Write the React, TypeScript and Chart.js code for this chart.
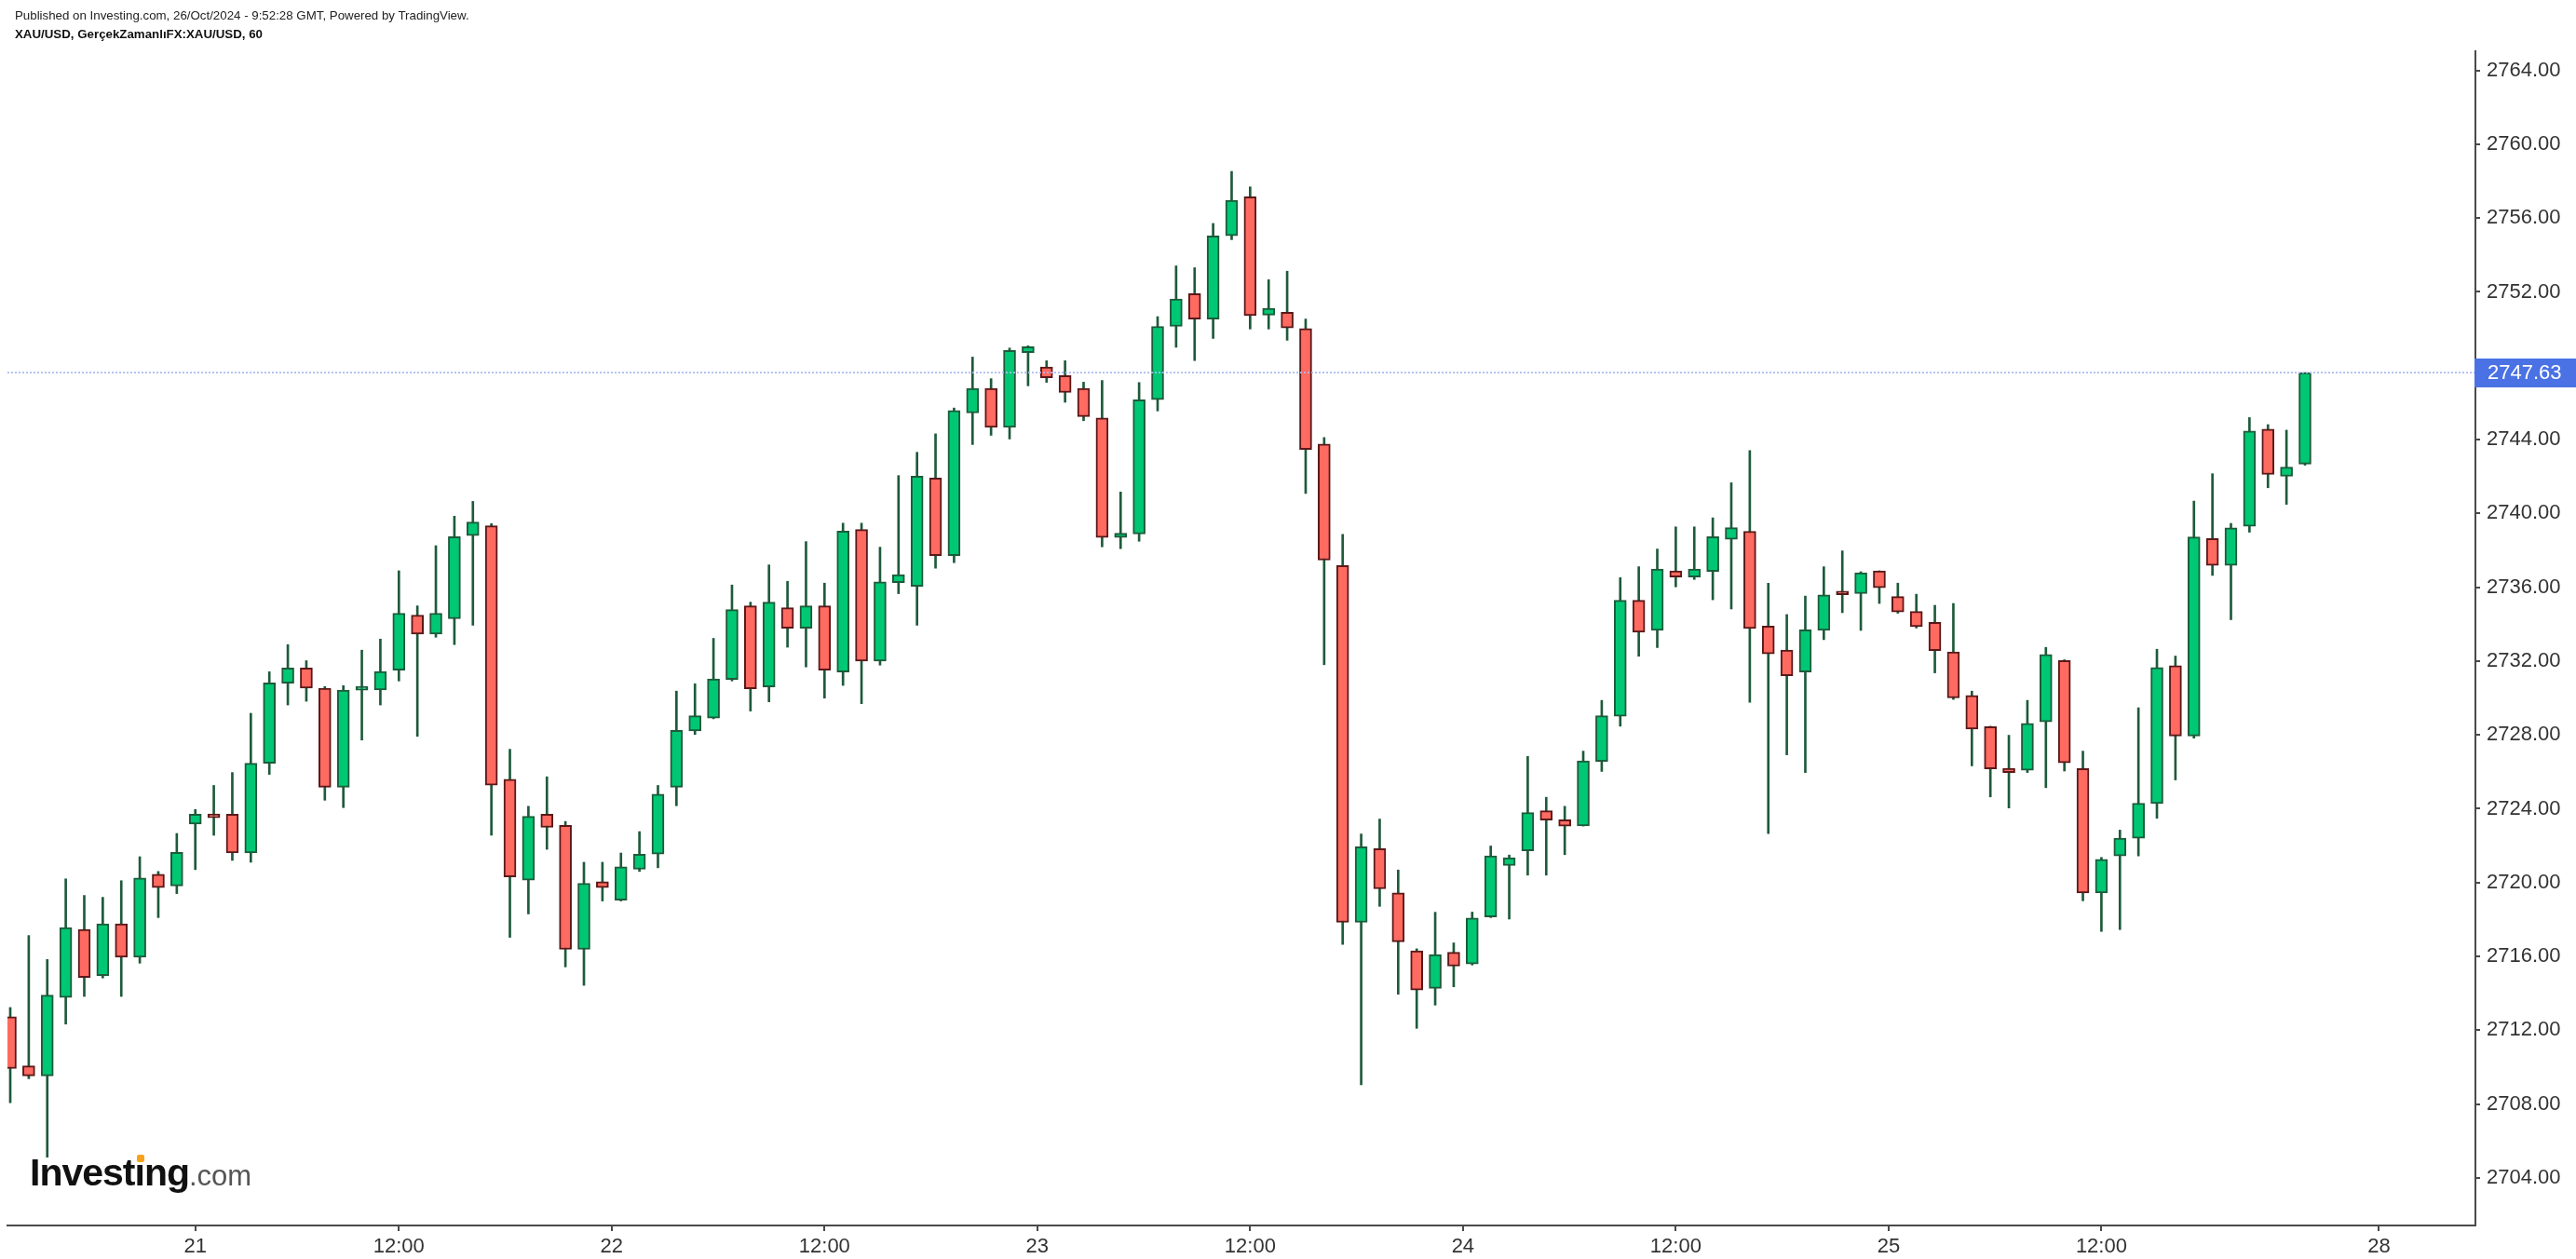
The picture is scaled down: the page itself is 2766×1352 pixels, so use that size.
import React, { useEffect, useRef } from "react";
import { Chart, registerables } from "chart.js";

Chart.register(...registerables);

// ---- data (XAU/USD, 1h candles) ----
const opens = [
  2712.73, 2710.07, 2709.52, 2713.77, 2717.46, 2714.96, 2717.76, 2715.96, 2720.45, 2719.82,
  2723.17, 2723.56, 2723.70, 2721.60, 2726.46, 2730.80, 2731.63, 2730.53, 2725.16, 2730.42,
  2730.43, 2731.50, 2734.49, 2733.46, 2734.29, 2738.80, 2739.33, 2725.59, 2720.13, 2723.70,
  2723.10, 2716.38, 2720.05, 2719.05, 2720.72, 2721.54, 2725.16, 2728.21, 2728.91, 2731.00,
  2734.99, 2730.60, 2734.89, 2733.78, 2734.99, 2731.40, 2739.13, 2732.00, 2736.25, 2736.05,
  2741.92, 2737.71, 2745.44, 2746.77, 2744.66, 2748.71, 2747.93, 2747.46, 2746.77, 2745.17,
  2738.70, 2738.89, 2746.16, 2750.13, 2751.91, 2750.53, 2755.04, 2757.15, 2750.74, 2750.90,
  2750.02, 2743.76, 2737.18, 2717.84, 2721.84, 2719.44, 2716.30, 2714.27, 2716.22, 2715.59,
  2718.14, 2720.92, 2721.72, 2723.89, 2723.40, 2723.07, 2726.56, 2729.01, 2735.29, 2733.66,
  2736.88, 2736.55, 2736.85, 2738.60, 2739.03, 2733.89, 2732.60, 2731.40, 2733.66, 2735.65,
  2735.65, 2736.88, 2735.49, 2734.69, 2734.09, 2732.50, 2730.14, 2728.44, 2726.19, 2726.08,
  2728.70, 2732.03, 2726.18, 2719.43, 2721.44, 2722.40, 2724.28, 2731.75, 2727.94, 2738.64,
  2737.18, 2739.30, 2744.57, 2742.01, 2742.67,
];
const highs = [
  2713.23, 2717.13, 2715.83, 2720.20, 2719.30, 2719.20, 2720.10, 2721.40, 2720.60, 2722.66,
  2723.96, 2725.26, 2725.96, 2729.17, 2731.42, 2732.89, 2732.02, 2730.62, 2730.67, 2732.59,
  2733.19, 2736.89, 2734.99, 2738.25, 2739.85, 2740.65, 2739.45, 2727.22, 2724.13, 2725.73,
  2723.31, 2721.10, 2721.10, 2721.60, 2722.76, 2725.26, 2730.37, 2730.77, 2733.23, 2736.12,
  2735.19, 2737.21, 2736.32, 2738.47, 2736.22, 2739.47, 2739.47, 2738.17, 2742.05, 2743.31,
  2744.31, 2745.71, 2748.47, 2747.30, 2748.96, 2749.08, 2748.27, 2748.27, 2747.11, 2747.20,
  2741.16, 2747.09, 2750.66, 2753.41, 2753.31, 2755.71, 2758.53, 2757.69, 2752.66, 2753.12,
  2750.53, 2744.11, 2738.87, 2722.63, 2723.44, 2720.68, 2716.41, 2718.39, 2716.73, 2718.40,
  2721.98, 2721.49, 2726.83, 2724.62, 2724.13, 2727.12, 2729.87, 2736.52, 2737.11, 2738.07,
  2739.27, 2739.27, 2739.76, 2741.66, 2743.41, 2736.22, 2734.52, 2735.52, 2737.11, 2737.97,
  2736.84, 2736.89, 2736.22, 2735.62, 2735.02, 2735.12, 2730.37, 2728.47, 2727.98, 2729.87,
  2732.74, 2732.07, 2727.12, 2721.36, 2722.84, 2729.47, 2732.64, 2732.27, 2740.67, 2742.15,
  2739.46, 2745.19, 2744.81, 2744.51, 2747.63,
];
const lows = [
  2708.07, 2709.37, 2705.12, 2712.33, 2713.83, 2714.83, 2713.83, 2715.63, 2718.10, 2719.40,
  2720.70, 2722.56, 2721.20, 2721.10, 2725.86, 2729.62, 2729.82, 2724.46, 2724.06, 2727.72,
  2729.62, 2730.92, 2727.92, 2733.29, 2732.89, 2733.94, 2722.56, 2717.03, 2718.30, 2721.80,
  2715.43, 2714.43, 2719.00, 2719.00, 2720.60, 2720.80, 2724.16, 2728.02, 2728.87, 2730.92,
  2729.29, 2729.79, 2732.75, 2731.68, 2729.99, 2730.68, 2729.69, 2731.78, 2735.65, 2733.94,
  2737.03, 2737.33, 2743.73, 2744.23, 2744.03, 2746.91, 2747.10, 2746.02, 2745.02, 2738.19,
  2738.09, 2738.49, 2745.55, 2749.00, 2748.28, 2749.48, 2754.83, 2749.99, 2749.99, 2749.38,
  2741.08, 2731.80, 2716.65, 2709.04, 2718.71, 2713.95, 2712.10, 2713.36, 2714.35, 2715.53,
  2718.10, 2718.02, 2720.40, 2720.40, 2721.51, 2723.06, 2726.02, 2728.47, 2732.26, 2732.73,
  2736.02, 2736.42, 2735.32, 2734.82, 2729.77, 2722.65, 2726.92, 2725.96, 2733.16, 2734.62,
  2733.66, 2735.12, 2734.59, 2733.79, 2731.36, 2729.92, 2726.32, 2724.64, 2724.04, 2725.96,
  2725.14, 2726.04, 2719.01, 2717.35, 2717.45, 2721.44, 2723.48, 2725.56, 2727.82, 2736.64,
  2734.24, 2738.98, 2741.39, 2740.49, 2742.61,
];
const closes = [
  2709.92, 2709.52, 2713.90, 2717.56, 2714.86, 2717.76, 2715.96, 2720.25, 2719.72, 2721.64,
  2723.70, 2723.51, 2721.61, 2726.46, 2730.82, 2731.63, 2730.53, 2725.16, 2730.42, 2730.52,
  2731.43, 2734.59, 2733.46, 2734.59, 2738.74, 2739.53, 2725.27, 2720.31, 2723.59, 2722.99,
  2716.38, 2719.96, 2719.73, 2720.85, 2721.54, 2724.79, 2728.24, 2729.04, 2731.03, 2734.79,
  2730.50, 2735.19, 2733.78, 2734.99, 2731.50, 2739.04, 2732.00, 2736.29, 2736.68, 2742.02,
  2737.71, 2745.57, 2746.77, 2744.66, 2748.83, 2749.03, 2747.35, 2746.55, 2745.24, 2738.70,
  2738.93, 2746.16, 2750.13, 2751.62, 2750.53, 2755.04, 2756.96, 2750.71, 2751.11, 2750.05,
  2743.46, 2737.47, 2717.84, 2721.94, 2719.66, 2716.79, 2714.17, 2716.10, 2715.47, 2718.08,
  2721.45, 2721.35, 2723.79, 2723.38, 2723.06, 2726.59, 2729.04, 2735.29, 2733.56, 2736.98,
  2736.55, 2736.98, 2738.74, 2739.23, 2733.76, 2732.39, 2731.20, 2733.69, 2735.59, 2735.59,
  2736.78, 2735.97, 2734.66, 2733.86, 2732.56, 2730.00, 2728.31, 2726.16, 2725.96, 2728.62,
  2732.35, 2726.48, 2719.43, 2721.26, 2722.40, 2724.30, 2731.65, 2727.94, 2738.72, 2737.18,
  2739.22, 2744.47, 2742.11, 2742.51, 2747.63,
];
const lastPrice = 2747.63;
const xTickPositions = [10, 21, 32.5, 44, 55.5, 67, 78.5, 90, 101.5, 113, 128];
const xTickLabels = ["21", "12:00", "22", "12:00", "23", "12:00", "24", "12:00", "25", "12:00", "28"];
// 2748.00 is hidden behind the last-price label in the original
const yTicks = [2704, 2708, 2712, 2716, 2720, 2724, 2728, 2732, 2736, 2740, 2744, 2752, 2756, 2760, 2764];

const W = 2766;
const H = 1352;
const FONT = "'Liberation Sans', Arial, Helvetica, sans-serif";
const GREEN = "#00c774";
const RED = "#ff6a61";
const GREEN_EDGE = "#1c5b3a";
const RED_EDGE = "#5a1818";
const WICK = "#1e5a3b";
const X_MIN = -0.151;
const X_MAX = 133.21;

export default function App() {
  const ref = useRef<HTMLCanvasElement | null>(null);

  useEffect(() => {
    const canvas = ref.current;
    if (!canvas) return;
    const idx = opens.map((_, i) => i);
    const bull = idx.map((i) => closes[i] >= opens[i]);

    const priceLabel = {
      id: "priceLabel",
      afterDraw(chart: any) {
        const { ctx, chartArea, scales } = chart;
        const y = Math.round(scales.y.getPixelForValue(lastPrice));
        ctx.save();
        ctx.fillStyle = "#4a72e4";
        ctx.fillRect(chartArea.right - 1, y - 15, W - chartArea.right + 1, 31);
        ctx.fillStyle = "#ffffff";
        ctx.font = `22px ${FONT}`;
        ctx.textBaseline = "middle";
        ctx.textAlign = "left";
        ctx.fillText(lastPrice.toFixed(2), chartArea.right + 13, y + 1);
        ctx.restore();
      },
    };

    const chart = new Chart(canvas, {
      type: "bar",
      data: {
        datasets: [
          {
            type: "line",
            data: [
              { x: X_MIN, y: lastPrice },
              { x: X_MAX, y: lastPrice },
            ],
            borderColor: "#a9bbf2",
            borderWidth: 1.6,
            borderDash: [2, 2],
            pointRadius: 0,
          } as any,
          {
            type: "bar",
            data: idx.map((i) => ({ x: i, y: [opens[i], closes[i]] })),
            backgroundColor: bull.map((b) => (b ? GREEN : RED)),
            borderColor: bull.map((b) => (b ? GREEN_EDGE : RED_EDGE)),
            borderWidth: 2,
            borderSkipped: false,
            barThickness: 13,
            minBarLength: 4,
            grouped: false,
          } as any,
          {
            type: "bar",
            data: idx.map((i) => ({ x: i, y: [lows[i], highs[i]] })),
            backgroundColor: WICK,
            borderWidth: 0,
            barThickness: 2,
            grouped: false,
          } as any,
        ],
      },
      options: {
        responsive: false,
        animation: false,
        devicePixelRatio: 1,
        layout: { padding: { top: 55, left: 8, right: 0, bottom: 0 } },
        plugins: { legend: { display: false }, tooltip: { enabled: false } },
        scales: {
          x: {
            type: "linear",
            position: "bottom",
            offset: false,
            min: X_MIN,
            max: X_MAX,
            afterBuildTicks: (s: any) => {
              s.ticks = xTickPositions.map((v) => ({ value: v }));
            },
            afterFit: (s: any) => {
              s.height = 36;
            },
            ticks: {
              autoSkip: false,
              maxRotation: 0,
              padding: 4,
              color: "#333333",
              font: { size: 22, family: FONT },
              callback: (_v: any, i: number) => xTickLabels[i],
            },
            grid: { offset: false, drawOnChartArea: false, drawTicks: true, tickLength: 6, color: "#4a4a4a", lineWidth: 2 },
            border: { display: true, color: "#4a4a4a", width: 2 },
          },
          y: {
            type: "linear",
            position: "right",
            min: 2701.42,
            max: 2765.04,
            afterBuildTicks: (s: any) => {
              s.ticks = yTicks.map((v) => ({ value: v }));
            },
            afterFit: (s: any) => {
              s.width = 108;
            },
            ticks: {
              padding: 7,
              color: "#333333",
              font: { size: 22, family: FONT },
              callback: (v: any) => Number(v).toFixed(2),
            },
            grid: { drawOnChartArea: false, drawTicks: true, tickLength: 5, color: "#4a4a4a", lineWidth: 2 },
            border: { display: true, color: "#4a4a4a", width: 2 },
          },
        },
      } as any,
      plugins: [priceLabel],
    });
    return () => chart.destroy();
  }, []);

  return (
    <div style={{ position: "fixed", left: 0, top: 0, width: W, height: H, background: "#ffffff", overflow: "hidden" }}>
      <canvas ref={ref} width={W} height={H} style={{ position: "absolute", left: 0, top: 0, width: W, height: H }} />
      <div style={{ position: "absolute", left: 16, top: 9, font: `13.3px ${FONT}`, lineHeight: "16px", color: "#222", whiteSpace: "nowrap" }}>
        Published on Investing.com, 26/Oct/2024 - 9:52:28 GMT, Powered by TradingView.
      </div>
      <div style={{ position: "absolute", left: 16, top: 29, font: `bold 13.3px ${FONT}`, lineHeight: "16px", color: "#111", whiteSpace: "nowrap" }}>
        XAU/USD, GerçekZamanlıFX:XAU/USD, 60
      </div>
      <div style={{ position: "absolute", left: 32, top: 1235, whiteSpace: "nowrap", lineHeight: "48px", fontFamily: FONT }}>
        <span style={{ fontWeight: 700, fontSize: 41, color: "#111", letterSpacing: "-1px" }}>
          Invest
          <span style={{ position: "relative" }}>
            ı
            <span style={{ position: "absolute", left: 2, top: 4, width: 8, height: 8, borderRadius: 2, background: "#f7a21b" }} />
          </span>
          ng
        </span>
        <span style={{ fontSize: 31, color: "#555" }}>.com</span>
      </div>
    </div>
  );
}
